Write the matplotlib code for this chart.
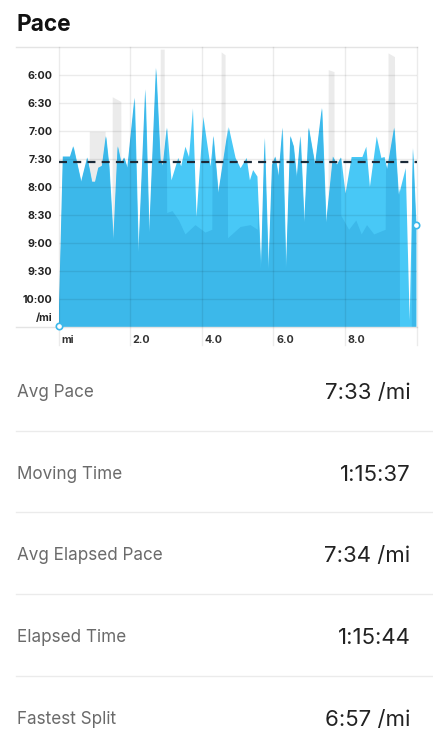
import numpy as np
import matplotlib
matplotlib.use("Agg")
import matplotlib.pyplot as plt
from matplotlib.transforms import ScaledTranslation

plt.rcParams['font.family'] = ['Inter', 'DejaVu Sans']

# ---------------- data ----------------
# pace samples (distance in miles, pace in seconds per mile)
pace_dist = [0.00, 0.12, 0.32, 0.41, 0.63, 0.80, 0.93, 1.02, 1.11, 1.21,
             1.32, 1.41, 1.53, 1.65, 1.75, 1.83, 1.92, 2.12, 2.23, 2.42,
             2.53, 2.72, 2.84, 2.91, 3.02, 3.14, 3.33, 3.41, 3.53, 3.63,
             3.74, 3.84, 4.03, 4.23, 4.32, 4.46, 4.74, 4.93, 5.07, 5.24,
             5.33, 5.42, 5.54, 5.65, 5.75, 5.86, 5.96, 6.05, 6.14, 6.25,
             6.35, 6.47, 6.56, 6.65, 6.75, 6.86, 6.98, 7.16, 7.35, 7.47,
             7.66, 7.77, 7.88, 8.00, 8.17, 8.47, 8.58, 8.68, 8.87, 9.00,
             9.09, 9.17, 9.37, 9.49, 9.68, 9.79, 9.89, 9.98]
pace_sec = [629, 447, 447, 436, 474, 448, 474, 474, 459, 457,
            425, 457, 536, 436, 454, 448, 459, 384, 550, 375,
            529, 352, 450, 457, 416, 472, 448, 457, 436, 447,
            395, 511, 404, 457, 425, 486, 415, 448, 459, 448,
            472, 461, 468, 568, 427, 568, 456, 447, 468, 416,
            568, 425, 436, 470, 425, 518, 416, 456, 395, 518,
            447, 456, 448, 486, 447, 447, 436, 479, 425, 448,
            447, 461, 416, 488, 459, 622, 438, 520]

# second (darker) pace layer
gap_dist = [0.00, 3.00, 3.02, 3.17, 3.35, 3.53, 3.81, 4.09, 4.28, 4.30,
            4.70, 4.72, 5.07, 5.35, 5.55, 5.65, 7.85, 7.88, 8.10, 8.30,
            8.45, 8.60, 8.80, 9.12, 9.15, 9.50, 9.52, 9.85, 9.87, 10.0]
gap_sec = [330, 330, 507, 505, 515, 530, 520, 528, 525, 330,
           330, 534, 522, 520, 525, 330, 330, 510, 525, 515,
           530, 520, 530, 525, 330, 330, 630, 630, 330, 330]

# elapsed pace (grey, behind)
elapsed_dist = [0.00, 0.84, 0.86, 1.30, 1.31, 1.49, 1.50, 1.74, 1.75, 2.83,
                2.84, 2.95, 2.96, 4.53, 4.54, 4.65, 4.66, 7.52, 7.53, 7.69,
                7.70, 9.19, 9.20, 9.38, 9.39, 10.0]
elapsed_sec = [630, 630, 420, 420, 630, 630, 383, 388, 630, 630,
               332, 332, 630, 630, 335, 338, 630, 630, 354, 356,
               630, 630, 336, 340, 630, 630]

avg_pace_sec = 453
y_ticks = [360, 390, 420, 450, 480, 510, 540, 570, 600]
x_ticks = [0, 2, 4, 6, 8]
x_tick_labels = ['mi', '2.0', '4.0', '6.0', '8.0']

stat_labels = ['Avg Pace', 'Moving Time', 'Avg Elapsed Pace', 'Elapsed Time', 'Fastest Split']
stat_values = ['7:33 /mi', '1:15:37', '7:34 /mi', '1:15:44', '6:57 /mi']

# ---------------- figure ----------------
W, H = 433, 750
fig = plt.figure(figsize=(W / 100, H / 100), dpi=100)
fig.patch.set_facecolor('white')

ax_l, ax_r, ax_t, ax_b = 58.5, 416.7, 47.3, 327.3
ax = fig.add_axes([ax_l / W, 1 - ax_b / H, (ax_r - ax_l) / W, (ax_b - ax_t) / H])
ax.set_xlim(0, 10.0)
ax.set_ylim(630, 330)
for s in ax.spines.values():
    s.set_visible(False)
ax.set_facecolor('none')

light_blue = '#48c8f6'
dark_blue = '#3cb8ea'

ax.fill_between(elapsed_dist, elapsed_sec, 630, color='#ebebeb', lw=0, zorder=1)
pf = ax.fill_between(pace_dist, pace_sec, 630, color=light_blue, lw=0, zorder=2)
df = ax.fill_between(gap_dist, gap_sec, 630, color=dark_blue, lw=0, zorder=3)
df.set_clip_path(pf.get_paths()[0], pf.get_transform())

grid_c = (0, 0, 0, 0.08)
ax.hlines(y_ticks, 0, 10.0, colors=[grid_c], lw=1, zorder=4)
ext_left = -(ax_l - 16) / (ax_r - ax_l)
for yv in [330, 630]:
    ax.axhline(yv, xmin=ext_left, xmax=1, color='#e4e4e4', lw=1, clip_on=False, zorder=4)
ext_down = -(345 - ax_b) / (ax_b - ax_t)
for xv in x_ticks + [10.0]:
    ax.axvline(xv, ymin=ext_down, ymax=1, color=grid_c, lw=1, clip_on=False, zorder=4)

ax.axhline(avg_pace_sec, color='#1b2a38', lw=1.6, dashes=(3.6, 2.8), zorder=6)

ax.plot([pace_dist[0], pace_dist[-1]], [pace_sec[0], pace_sec[-1]], 'o', ms=4.6,
        mfc='white', mec='#3cb8ea', mew=1.2, clip_on=False, zorder=7)

def fmt(s):
    return f"{s // 60}:{s % 60:02d}"

ax.set_yticks(y_ticks)
ax.set_yticklabels([fmt(v) for v in y_ticks])
ax.tick_params(axis='y', length=0, pad=4.4, labelsize=7.7, labelcolor='#222222')
for lab in ax.get_yticklabels():
    lab.set_fontweight('bold')
ax.text(-6.2 / (ax_r - ax_l) * 10.0, 619.5, '/mi', ha='right', va='center',
        fontsize=7.7, fontweight='bold', color='#222222')

ax.set_xticks(x_ticks)
ax.set_xticklabels(x_tick_labels)
ax.tick_params(axis='x', length=0, pad=5.5, labelsize=7.7, labelcolor='#333333')
off = ScaledTranslation(2.6 / 100, 0, fig.dpi_scale_trans)
for lab in ax.get_xticklabels():
    lab.set_ha('left')
    lab.set_fontweight('bold')
    lab.set_transform(lab.get_transform() + off)

# title
fig.text(17 / W, 1 - 30.7 / H, 'Pace', fontsize=16.3, fontweight='bold',
         color='#111111', va='baseline', ha='left')

# stats
label_base = [397, 479, 560.5, 642, 724]
for i, (lab, val) in enumerate(zip(stat_labels, stat_values)):
    yb = label_base[i]
    fig.text(17 / W, 1 - yb / H, lab, fontsize=12.3, color='#6a6a6a',
             va='baseline', ha='left')
    fig.text(410.7 / W, 1 - (yb + 1.8) / H, val, fontsize=16.0, color='#222222',
             va='baseline', ha='right')
for ys in [430.7, 512.3, 594.3, 676]:
    fig.add_artist(plt.Line2D([16 / W, 1], [1 - ys / H, 1 - ys / H],
                              color='#ebebeb', lw=1, transform=fig.transFigure))

fig.savefig('out.png', dpi=100, facecolor='white')
